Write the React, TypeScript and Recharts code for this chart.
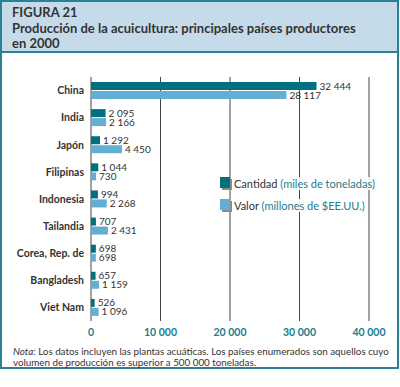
import React from 'react';
import { BarChart, Bar, XAxis, YAxis, CartesianGrid, LabelList } from 'recharts';

// Países (orden del gráfico, de arriba abajo)
const COUNTRIES = [
  'China', 'India', 'Japón', 'Filipinas', 'Indonesia',
  'Tailandia', 'Corea, Rep. de', 'Bangladesh', 'Viet Nam',
];
// Cantidad (miles de toneladas)
const CANTIDAD = [32444, 2095, 1292, 1044, 994, 707, 698, 657, 526];
// Valor (millones de $EE.UU.)
const VALOR = [28117, 2166, 4450, 730, 2268, 2431, 698, 1159, 1096];
const X_TICKS = [0, 10000, 20000, 30000, 40000];

const TEAL = '#00707f';
const LIGHT = '#63afd3';
const TEXT = '#333';
const TICK_TEAL = '#1a7d90';
const FONT = 'Lato, "DejaVu Sans", sans-serif';

const fmt = (n: number | string) =>
  String(n).replace(/\B(?=(\d{3})+(?!\d))/g, ' ');

const data = COUNTRIES.map((c, i) => ({
  name: c,
  cantidad: CANTIDAD[i],
  valor: VALOR[i],
}));

// etiqueta de país sin cortes de línea
function CountryTick(props: any) {
  const { x, y, payload } = props;
  return (
    <text x={x - 1} y={y} dy="0.355em" textAnchor="end" fill={TEXT} fontSize={10.5} fontWeight={700}>
      {payload.value}
    </text>
  );
}

function LegendBox() {
  const items = [
    { color: TEAL, label: 'Cantidad', unit: '(miles de toneladas)' },
    { color: LIGHT, label: 'Valor', unit: '(millones de $EE.UU.)' },
  ];
  return (
    <div style={{ position: 'absolute', left: 220, top: 172, fontFamily: FONT, fontSize: 11 }}>
      {items.map((it) => (
        <div key={it.label} style={{ display: 'flex', alignItems: 'center', height: 22 }}>
          <span style={{ position: 'relative', width: 12, height: 13, marginRight: 2 }}>
            <span style={{ position: 'absolute', left: 2, top: 2, width: 10, height: 11, background: '#8a8a8a' }} />
            <span style={{ position: 'absolute', left: 0, top: 0, width: 10, height: 11, background: it.color }} />
          </span>
          <span style={{ background: 'rgba(255,255,255,0.85)', color: TEXT, paddingRight: 2, whiteSpace: 'nowrap' }}>
            {it.label} <span style={{ color: TICK_TEAL }}>{it.unit}</span>
          </span>
        </div>
      ))}
    </div>
  );
}

export default function App() {
  return (
    <div style={{ position: 'absolute', left: 0, top: 0, width: 400, height: 387, background: '#fff', fontFamily: FONT }}>
      {/* marco */}
      <div style={{ position: 'absolute', left: 0, top: 0, width: 399, height: 369, border: '2px solid #2a8094', boxSizing: 'border-box' }} />
      <div
        style={{
          position: 'absolute', left: 2, top: 2, width: 395, height: 51,
          background: '#c6dbe9', borderBottom: '2px solid #2a8094',
          color: '#333', fontWeight: 700, fontSize: 13, lineHeight: '15.5px',
          padding: '3px 0 0 10px', boxSizing: 'border-box',
        }}
      >
        <div>FIGURA 21</div>
        <div>Producción de la acuicultura: principales países productores</div>
        <div>en 2000</div>
      </div>

      <div style={{ position: 'absolute', left: 0, top: 0 }}>
        <BarChart
          width={400}
          height={387}
          data={data}
          layout="vertical"
          margin={{ top: 77, right: 31, bottom: 44, left: 11 }}
          barSize={8}
          barGap={1}
          style={{ fontFamily: FONT }}
        >
          <CartesianGrid vertical horizontal={false} stroke="#444" strokeWidth={1} />
          <XAxis
            type="number"
            domain={[0, 40000]}
            ticks={X_TICKS}
            tickFormatter={fmt}
            axisLine={false}
            tickLine={false}
            height={22}
            interval={0}
            tick={{ fill: TICK_TEAL, fontSize: 10.5, fontWeight: 700 }}
          />
          <YAxis
            type="category"
            dataKey="name"
            width={80}
            axisLine={false}
            tickLine={false}
            tickMargin={0}
            interval={0}
            tick={<CountryTick />}
          />
          <Bar dataKey="cantidad" fill={TEAL} isAnimationActive={false}>
            <LabelList dataKey="cantidad" position="right" offset={3} formatter={fmt} fill={TEXT} fontSize={10} />
          </Bar>
          <Bar dataKey="valor" fill={LIGHT} isAnimationActive={false}>
            <LabelList dataKey="valor" position="right" offset={3} formatter={fmt} fill={TEXT} fontSize={10} />
          </Bar>
        </BarChart>
      </div>

      <LegendBox />

      <div
        style={{
          position: 'absolute', left: 13, top: 346, width: 384,
          fontSize: 9.8, lineHeight: '11px', color: TEXT, whiteSpace: 'nowrap',
        }}
      >
        <i>Nota:</i> Los datos incluyen las plantas acuáticas. Los países enumerados son aquellos cuyo
        <br />
        volumen de producción es superior a 500 000 toneladas.
      </div>
    </div>
  );
}
